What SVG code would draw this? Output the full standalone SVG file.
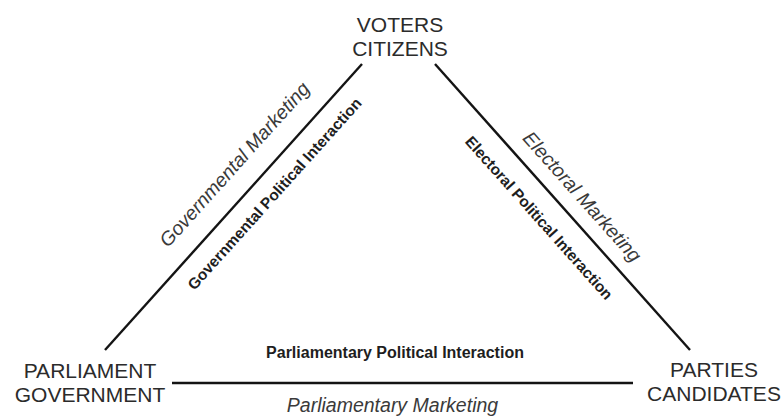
<svg xmlns="http://www.w3.org/2000/svg" width="784" height="419" viewBox="0 0 784 419">
  <style>
    .node { font-family: "Liberation Sans", Arial, sans-serif; font-size: 21px; fill: #2b2b2b; text-anchor: middle; }
    .mkt { font-family: "Liberation Sans", Arial, sans-serif; font-size: 19.5px; font-style: italic; fill: #3a3a3a; text-anchor: middle; }
    .pol { font-family: "Liberation Sans", Arial, sans-serif; font-size: 15.5px; font-weight: bold; fill: #1e1e1e; text-anchor: middle; }
    .edge { stroke: #141414; stroke-width: 2.4; fill: none; stroke-linecap: butt; }
  </style>
  <rect width="784" height="419" fill="#ffffff"/>

  <!-- triangle sides -->
  <g id="connectors">
    <line class="edge" x1="362" y1="64" x2="105" y2="350"/>
    <line class="edge" x1="435" y1="64" x2="690" y2="350"/>
    <line class="edge" x1="172" y1="383" x2="633" y2="383"/>
  </g>

  <!-- side labels -->
  <g id="labels">
    <g transform="translate(255,183) rotate(-48.06)">
      <text class="mkt" x="0" y="-21">Governmental Marketing</text>
    </g>
    <g transform="translate(258.4,179.3) rotate(-48.06)">
      <text class="pol" x="0" y="27">Governmental Political Interaction</text>
    </g>
    <g transform="translate(566,211) rotate(48.28)">
      <text class="mkt" x="0" y="-15">Electoral Marketing</text>
    </g>
    <g transform="translate(557.5,201.5) rotate(48.28)">
      <text class="pol" x="0" y="30">Electoral Political Interaction</text>
    </g>
    <text class="pol" x="395" y="358" style="font-size:16px">Parliamentary Political Interaction</text>
    <text class="mkt" x="392.5" y="412">Parliamentary Marketing</text>
  </g>

  <!-- corner nodes -->
  <g id="voters">
    <text class="node" x="400" y="32">VOTERS</text>
    <text class="node" x="400" y="56">CITIZENS</text>
  </g>
  <g id="parliament">
    <text class="node" x="90" y="378">PARLIAMENT</text>
    <text class="node" x="90" y="402">GOVERNMENT</text>
  </g>
  <g id="parties">
    <text class="node" x="714" y="377">PARTIES</text>
    <text class="node" x="714" y="401">CANDIDATES</text>
  </g>
</svg>
